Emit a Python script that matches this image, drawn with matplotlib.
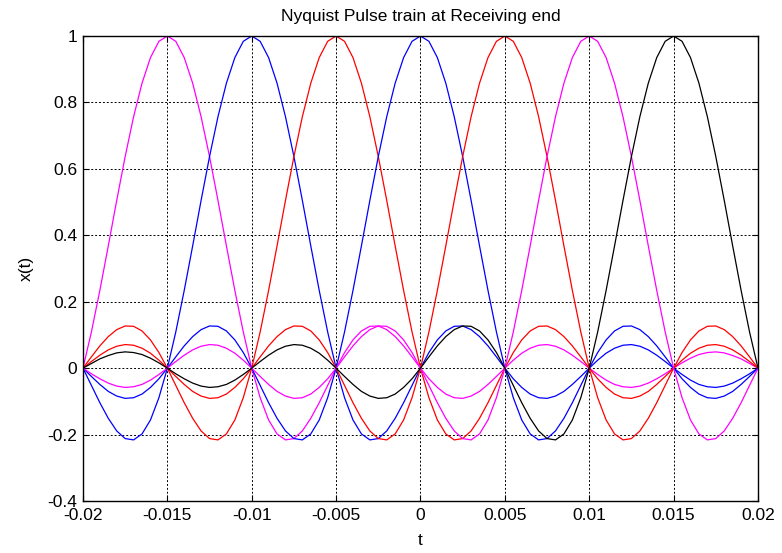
import numpy as np
import matplotlib.pyplot as plt
plt.switch_backend('agg')

plt.rcParams['font.family'] = ['Liberation Sans', 'DejaVu Sans']

# pulse spacing and sample step of the received pulses (seconds)
T = 0.005
step = 0.0005

# one side of the received pulse, sampled every 0.0005 s from the peak outwards
half_pulse = [1.000, 0.984, 0.935, 0.858, 0.757, 0.637, 0.505, 0.368, 0.234, 0.109,
              0.000, -0.089, -0.156, -0.198, -0.216, -0.212, -0.189, -0.151, -0.104, -0.052,
              0.000, 0.047, 0.085, 0.112, 0.126, 0.127, 0.116, 0.095, 0.067, 0.034,
              0.000, -0.032, -0.058, -0.078, -0.089, -0.091, -0.084, -0.070, -0.049, -0.025,
              0.000, 0.024, 0.045, 0.060, 0.069, 0.071, 0.066, 0.055, 0.039, 0.020,
              0.000, -0.019, -0.036, -0.049, -0.056, -0.058, -0.054, -0.045, -0.032, -0.017,
              0.000, 0.016, 0.030, 0.041, 0.047, 0.049, 0.046, 0.038, 0.028, 0.014,
              0.000]

centers = [-0.015, -0.01, -0.005, 0.0, 0.005, 0.01, 0.015]
colors = ['magenta', 'blue', 'red', 'blue', 'red', 'magenta', 'black']

x_ticks = [-0.02, -0.015, -0.01, -0.005, 0, 0.005, 0.01, 0.015, 0.02]
x_labels = ['-0.02', '-0.015', '-0.01', '-0.005', '0', '0.005', '0.01', '0.015', '0.02']
y_ticks = [-0.4, -0.2, 0, 0.2, 0.4, 0.6, 0.8, 1]
y_labels = ['-0.4', '-0.2', '0', '0.2', '0.4', '0.6', '0.8', '1']

shape = np.array(half_pulse[:0:-1] + half_pulse)
n = len(half_pulse) - 1
offsets = np.arange(-n, n + 1) * step

fig = plt.figure(figsize=(7.82, 5.53), dpi=100)
ax = fig.add_axes([0.1061, 0.094, 0.8632, 0.8409])

for c, col in zip(centers, colors):
    t = c + offsets
    keep = (t >= -0.02 - 1e-9) & (t <= 0.02 + 1e-9)
    ax.plot(t[keep], shape[keep], color=col, linewidth=0.9)

ax.set_xlim(-0.02, 0.02)
ax.set_ylim(-0.4, 1)
ax.set_xticks(x_ticks)
ax.set_xticklabels(x_labels)
ax.set_yticks(y_ticks)
ax.set_yticklabels(y_labels)
ax.grid(True, color='black', linestyle=(0, (2, 2)), linewidth=0.7)
ax.tick_params(direction='in', top=True, right=True, length=4, width=0.8, labelsize=12.5)
ax.tick_params(axis='x', pad=5)
ax.tick_params(axis='y', pad=4)
for s in ax.spines.values():
    s.set_linewidth(1.0)

ax.set_title('Nyquist Pulse train at Receiving end', fontsize=12.5, pad=11)
ax.set_xlabel('t', fontsize=12.5, labelpad=7)
ax.set_ylabel('x(t)', fontsize=12.5, labelpad=10)

plt.savefig('out.png', dpi=100)
